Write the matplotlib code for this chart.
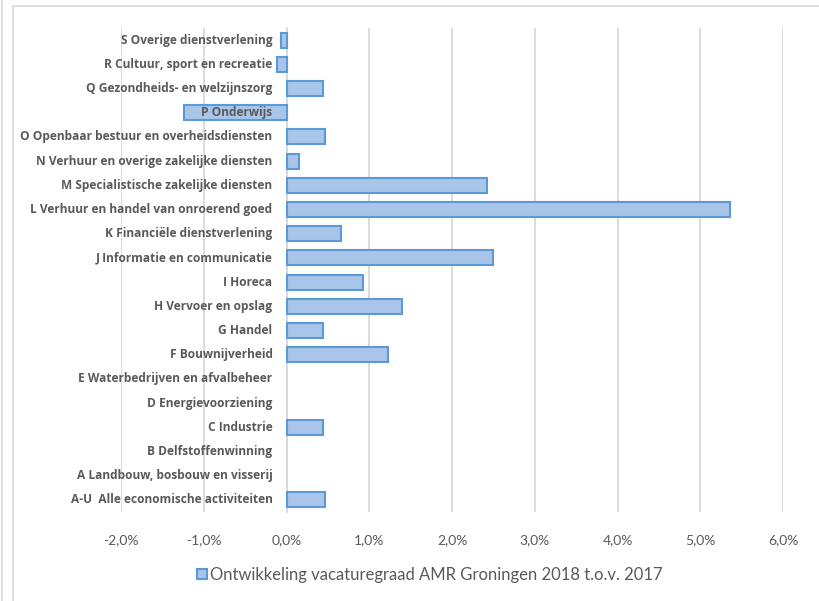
import matplotlib.pyplot as plt
import matplotlib.transforms as mtransforms
from matplotlib.patches import Rectangle
from matplotlib.lines import Line2D

categories = [
    "S Overige dienstverlening",
    "R Cultuur, sport en recreatie",
    "Q Gezondheids- en welzijnszorg",
    "P Onderwijs",
    "O Openbaar bestuur en overheidsdiensten",
    "N Verhuur en overige zakelijke diensten",
    "M Specialistische zakelijke diensten",
    "L Verhuur en handel van onroerend goed",
    "K Financiële dienstverlening",
    "J Informatie en communicatie",
    "I Horeca",
    "H Vervoer en opslag",
    "G Handel",
    "F Bouwnijverheid",
    "E Waterbedrijven en afvalbeheer",
    "D Energievoorziening",
    "C Industrie",
    "B Delfstoffenwinning",
    "A Landbouw, bosbouw en visserij",
    "A-U  Alle economische activiteiten",
]
values = [-0.07, -0.12, 0.44, -1.24, 0.47, 0.15, 2.42, 5.36, 0.66, 2.49,
          0.93, 1.40, 0.44, 1.23, 0.0, 0.0, 0.44, 0.0, 0.0, 0.47]
xticks = [-2, -1, 0, 1, 2, 3, 4, 5, 6]
series_name = "Ontwikkeling vacaturegraad AMR Groningen 2018 t.o.v. 2017"

grey = "#595959"
grid_col = "#d9d9d9"
fill = "#a9c5ea"
edge = "#5b9bd5"

fig = plt.figure(figsize=(8.19, 6.01), dpi=100)
ax = fig.add_axes([121 / 819, 1 - 512 / 601, (783 - 121) / 819, (512 - 28) / 601])

# chart frame (partly cut off in the reference)
fig.add_artist(Rectangle((13 / 819, -0.1), 1.2, 1 - 6 / 601 + 0.1, transform=fig.transFigure,
                         fill=False, edgecolor=grid_col, linewidth=1.2))
fig.add_artist(Line2D([2 / 819, 2 / 819], [0, 1], transform=fig.transFigure,
                      color=grid_col, linewidth=1.2))

y = list(range(len(categories)))
lws = [1.5 if v != 0 else 0 for v in values]
ax.barh(y, values, height=0.62, color=fill, edgecolor=edge, linewidth=lws,
        label=series_name, zorder=3)

ax.set_xlim(-2, 6)
ax.set_ylim(len(categories) - 0.5, -0.5)
ax.set_xticks(xticks)
ax.set_xticklabels([f"{v},0%" for v in xticks], color=grey, fontsize=10, family="Lato")
ax.grid(axis="x", color=grid_col, linewidth=1.3, zorder=0)
ax.set_axisbelow(True)

for s in ["top", "right", "bottom"]:
    ax.spines[s].set_visible(False)
ax.spines["left"].set_position(("data", 0))
ax.spines["left"].set_color(grid_col)
ax.spines["left"].set_linewidth(1.3)

ax.set_yticks(y)
ax.set_yticklabels([])
ax.tick_params(axis="y", length=0)
ax.tick_params(axis="x", length=0, pad=16)

# category labels sit next to the zero line, on top of the bars
trans = mtransforms.offset_copy(ax.transData, fig=fig, x=-14, y=0, units="dots")
for yi, name in zip(y, categories):
    ax.text(0, yi, name, transform=trans, ha="right", va="center", color=grey,
            fontsize=8.6, family="Open Sans", fontweight="bold", zorder=5)

fig.legend(loc="center", bbox_to_anchor=(430 / 819, 1 - 575 / 601), frameon=False,
           prop={"family": "Lato", "size": 12}, labelcolor=grey,
           handlelength=0.6, handleheight=0.6, handletextpad=0.2)

plt.savefig("out.png", dpi=100)
